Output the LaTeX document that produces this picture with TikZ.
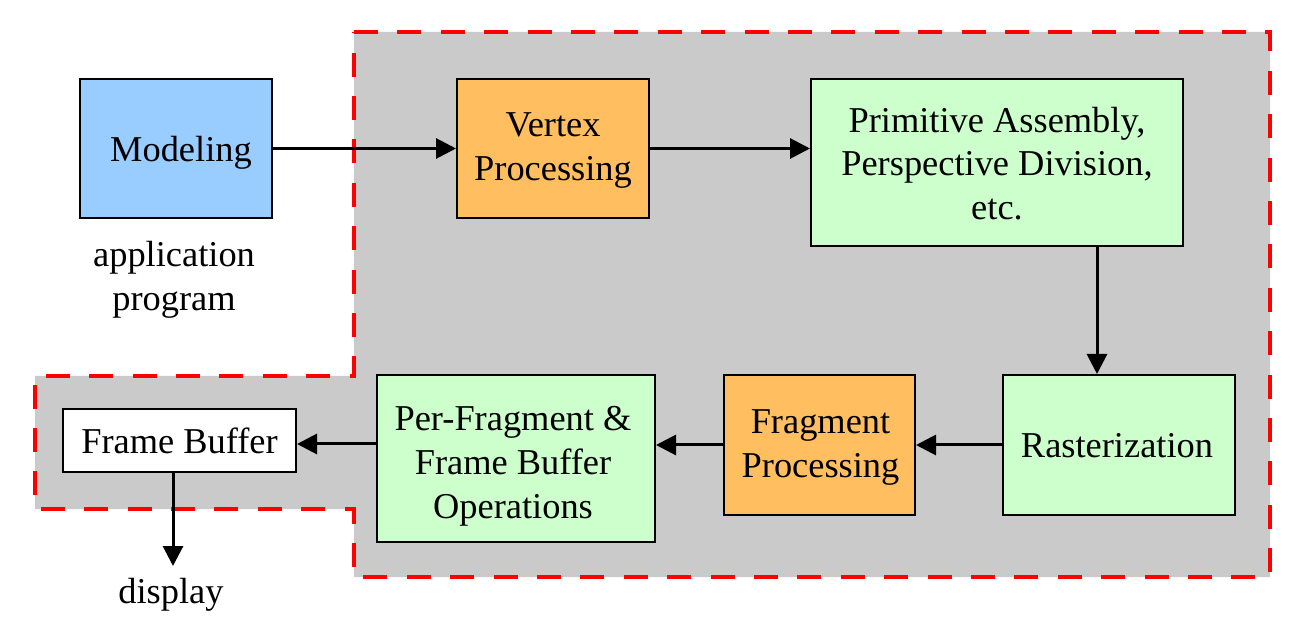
\documentclass[tikz,border=0pt]{standalone}
\usepackage{fontspec}
\setmainfont{Liberation Serif}
\usetikzlibrary{arrows.meta}
\definecolor{bgray}{RGB}{202,202,202}
\definecolor{mblue}{RGB}{153,204,255}
\definecolor{morange}{RGB}{255,191,96}
\definecolor{mgreen}{RGB}{204,255,204}
\definecolor{mred}{RGB}{255,0,0}
\tikzset{
  box/.style={draw=black, line width=1pt, inner sep=0pt},
  lbl/.style={align=center, inner sep=0pt},
  arr/.style={line width=1.5pt, -{Triangle[length=10pt,width=10pt]}},
  every node/.style={font=\fontsize{18.2}{21.9}\selectfont},
}
\begin{document}
\begin{tikzpicture}[x=0.5pt,y=-0.5pt]
\useasboundingbox (0,0) rectangle (1290,625);
% gray region
\draw[fill=bgray, draw=mred, line width=2pt, dash pattern=on 12pt off 9.7pt]
  (354,32) -- (1270,32) -- (1270,577) -- (354,577) -- (354,509) -- (35,509) -- (35,376) -- (354,376) -- cycle;
% boxes
\node[box, fill=mblue, minimum width=96pt, minimum height=69.5pt] (Mod) at (176,148.5) {};
\node[box, fill=morange, minimum width=96pt, minimum height=69.5pt] (Vert) at (553,148.5) {};
\node[box, fill=mgreen, minimum width=186pt, minimum height=83.5pt] (Prim) at (997,162.5) {};
\node[box, fill=mgreen, minimum width=116pt, minimum height=70pt] (Rast) at (1119,445) {};
\node[box, fill=morange, minimum width=95.5pt, minimum height=70pt] (Frag) at (819.5,445) {};
\node[box, fill=mgreen, minimum width=139pt, minimum height=83.5pt] (Per) at (516,458.5) {};
\node[box, fill=white, minimum width=116.5pt, minimum height=31.5pt] (FB) at (179.5,440.8) {};
% labels
\node[lbl] (tMod) at ([xshift=2.5pt,yshift=-2pt]Mod.center) {Modeling};
\node[lbl] (tVert) at ([yshift=-1pt]Vert.center) {Vertex\\Processing};
\node[lbl] (tPrim) at ([yshift=-0.5pt]Prim.center) {Primitive Assembly,\\Perspective Division,\\etc.};
\node[lbl] (tRast) at ([xshift=-1pt,yshift=-0.5pt]Rast.center) {Rasterization};
\node[lbl] (tFrag) at ([xshift=0.5pt,yshift=-1.3pt]Frag.center) {Fragment\\Processing};
\node[lbl] (tPer) at ([xshift=-1.5pt,yshift=-3.8pt]Per.center) {Per-Fragment \&\\Frame Buffer\\Operations};
\node[lbl] (tFB) at (FB.center) {Frame Buffer};
\node[lbl] (App) at (174,279.5) {application\\program};
\node[lbl] (Disp) at (171,595) {display};
\coordinate (rx) at (1097,0);
\coordinate (dx) at (173,0);
\coordinate (dend) at (173,566);
% connectors
\draw[arr] (Mod.east) -- (Vert.west);
\draw[arr] (Vert.east) -- (Vert.east -| Prim.west);
\draw[arr] (Prim.south -| rx) -- (Rast.north -| rx);
\draw[arr] (Rast.west) -- (Frag.east);
\draw[arr] (Frag.west) -- (Frag.west -| Per.east);
\draw[arr] (Per.west |- 0,444) -- (FB.east |- 0,444);
\draw[arr] (FB.south -| dx) -- (dend);
\end{tikzpicture}
\end{document}
